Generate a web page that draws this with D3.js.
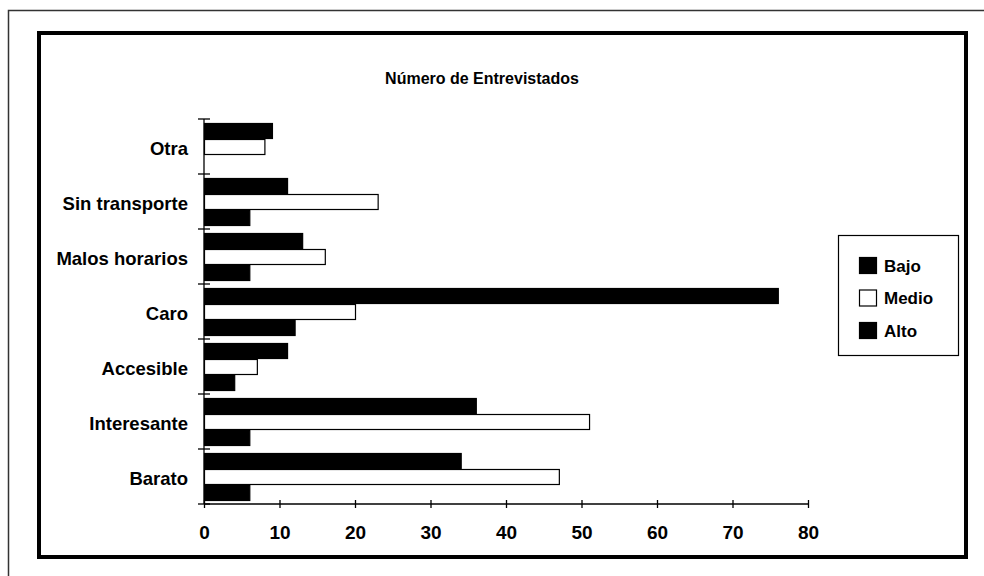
<!DOCTYPE html>
<html><head><meta charset="utf-8">
<script src="https://cdn.jsdelivr.net/npm/d3@7/dist/d3.min.js"></script>
<style>body{margin:0;background:#fff;}svg{display:block;}</style>
</head><body>
<svg id="c" width="984" height="576"></svg>
<script>
const title = "Número de Entrevistados";
const categories = ["Otra","Sin transporte","Malos horarios","Caro","Accesible","Interesante","Barato"];
const seriesNames = ["Bajo","Medio","Alto"];
const bajo  = [9, 11, 13, 76, 11, 36, 34];
const medio = [8, 23, 16, 20, 7, 51, 47];
const alto  = [0, 6, 6, 12, 4, 6, 6];
const xTicks = [0,10,20,30,40,50,60,70,80];

const font = "'Liberation Sans', Arial, Helvetica, sans-serif";
const svg = d3.select("#c");
const values = [bajo, medio, alto];
const fills = ["#000", "#fff", "#000"];

// frames
svg.append("rect").attr("x",8.5).attr("y",10.5).attr("width",1000).attr("height",600)
  .attr("fill","none").attr("stroke","#333").attr("stroke-width",1.5);
svg.append("rect").attr("x",39).attr("y",33).attr("width",927).attr("height",524)
  .attr("fill","none").attr("stroke","#000").attr("stroke-width",4);

svg.append("text").attr("x",482).attr("y",84).attr("text-anchor","middle")
  .attr("font-family",font).attr("font-weight","bold").attr("font-size",16).text(title);

const x = d3.scaleLinear().domain([0,80]).range([204,808]);
const y = d3.scaleBand().domain(categories).range([119,504]).padding(0);
const ySub = d3.scaleBand().domain(seriesNames).range([4, y.bandwidth()-3]).padding(0);

const g = svg.append("g");
categories.forEach((c,i)=>{
  seriesNames.forEach((s,j)=>{
    const v = values[j][i];
    if (v <= 0) return;
    g.append("rect")
      .attr("x", x(0)+0.5).attr("y", y(c)+ySub(s)+0.5)
      .attr("width", x(v)-x(0)).attr("height", ySub.bandwidth()-1)
      .attr("fill", fills[j]).attr("stroke","#000").attr("stroke-width",1.2);
  });
});

// x axis
const xAxis = svg.append("g").attr("transform","translate(0,504)")
  .call(d3.axisBottom(x).tickValues(xTicks).tickSize(4).tickPadding(18));
xAxis.select(".domain").attr("stroke","#000").attr("stroke-width",1.3).attr("d","M204,0H808");
xAxis.selectAll(".tick line").attr("y1",-4).attr("y2",4).attr("stroke","#000").attr("stroke-width",1.3);
xAxis.selectAll(".tick text").attr("font-family",font).attr("font-weight","bold").attr("font-size",19).attr("fill","#000");

// y axis
const yAxis = svg.append("g").attr("transform","translate(204,0)")
  .call(d3.axisLeft(y).tickSize(0).tickPadding(16));
yAxis.select(".domain").attr("d","M0,119V504").attr("stroke","#000").attr("stroke-width",1.3);
yAxis.selectAll(".tick text").attr("font-family",font).attr("font-weight","bold").attr("font-size",18.5).attr("fill","#000")
  .attr("dy","0.45em");
// category boundary ticks
const bounds = categories.map(c=>y(c)).concat([504]);
svg.append("g").selectAll("line").data(bounds).join("line")
  .attr("x1",198).attr("x2",210).attr("y1",d=>d).attr("y2",d=>d)
  .attr("stroke","#000").attr("stroke-width",1.3);

// legend
const lg = svg.append("g");
lg.append("rect").attr("x",838.5).attr("y",235.5).attr("width",120).attr("height",120)
  .attr("fill","#fff").attr("stroke","#000").attr("stroke-width",1.2);
const ly = d3.scalePoint().domain(seriesNames).range([266,331]);
seriesNames.forEach((s,j)=>{
  lg.append("rect").attr("x",859.5).attr("y",ly(s)-8.5).attr("width",17).attr("height",16)
    .attr("fill",fills[j]).attr("stroke","#000").attr("stroke-width",1.2);
  lg.append("text").attr("x",884).attr("y",ly(s)).attr("dy","0.35em")
    .attr("font-family",font).attr("font-weight","bold").attr("font-size",17).text(s);
});
</script>
</body></html>
